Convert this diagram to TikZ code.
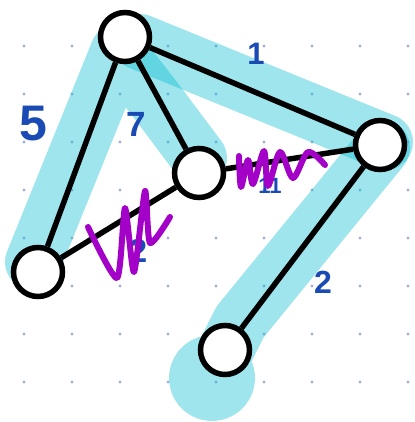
\documentclass[tikz,border=0pt]{standalone}
\usepackage{fontspec}
\setmainfont{Liberation Sans}
\definecolor{hlc}{RGB}{0,189,210}
\definecolor{numblue}{RGB}{26,74,180}
\definecolor{scrib}{RGB}{163,0,200}
\definecolor{dotc}{RGB}{160,176,210}
\begin{document}
\begin{tikzpicture}[x=1pt,y=-1pt,
  hl/.style={draw=hlc, draw opacity=0.38, line width=56pt, line cap=round, line join=round},
  vtx/.style={circle, draw=black, fill=white, line width=5.5pt, minimum size=49pt, inner sep=0pt},
  edge/.style={draw=black, line width=5.5pt},
  num/.style={text=numblue, font=\bfseries\fontsize{#1}{#1}\selectfont, inner sep=0pt},
  scribble/.style={draw=scrib, line width=6pt, line cap=round, line join=round}]
\useasboundingbox (0,0) rectangle (414,422);
\fill[white] (0,0) rectangle (414,422);
% dot grid
\foreach \i in {0,...,8} \foreach \j in {0,...,7}
  \fill[dotc] (24+48*\i, 46+48*\j) circle[radius=1.6];
% highlighter strokes
\draw[hl] (33,262) -- (118,52) -- (157,102) -- (199,158);
\draw[hl] (140,42) -- (385,142);
\draw[hl] (382,148) -- (240,322) -- (212,378) (212,378) circle[radius=15];
% vertices
\node[vtx] (A) at (125,37) {};
\node[vtx] (B) at (380,145) {};
\node[vtx] (C) at (199,173) {};
\node[vtx] (D) at (38,272) {};
\node[vtx] (E) at (225,350) {};
% edges
\draw[edge] (A) -- (D);
\draw[edge] (A) -- (C);
\draw[edge] (A) -- (B);
\draw[edge] (C) -- (D);
\draw[edge] (C) -- (B);
\draw[edge] (B) -- (E);
% weights
\node[num=50] (w5) at (33,124) {5};
\node[num=35] (w7) at (136,124) {7};
\node[num=31] (w1) at (256,54) {1};
\node[num=22] (w11) at (270,186) {11};
\node[num=33] (w2a) at (138,251) {2};
\node[num=32] (w2b) at (323,282) {2};
% scribbles
\draw[scribble] plot[smooth, tension=0.4] coordinates {(88,227) (117,278) (125,208) (134,272) (145,191) (150,243) (170,217)};
\draw[scribble] plot[smooth, tension=0.5] coordinates {(239,156) (241,187) (248,160) (253,184) (264,151) (268,186) (280,152) (293,178) (308,152) (325,165)};
\end{tikzpicture}
\end{document}
